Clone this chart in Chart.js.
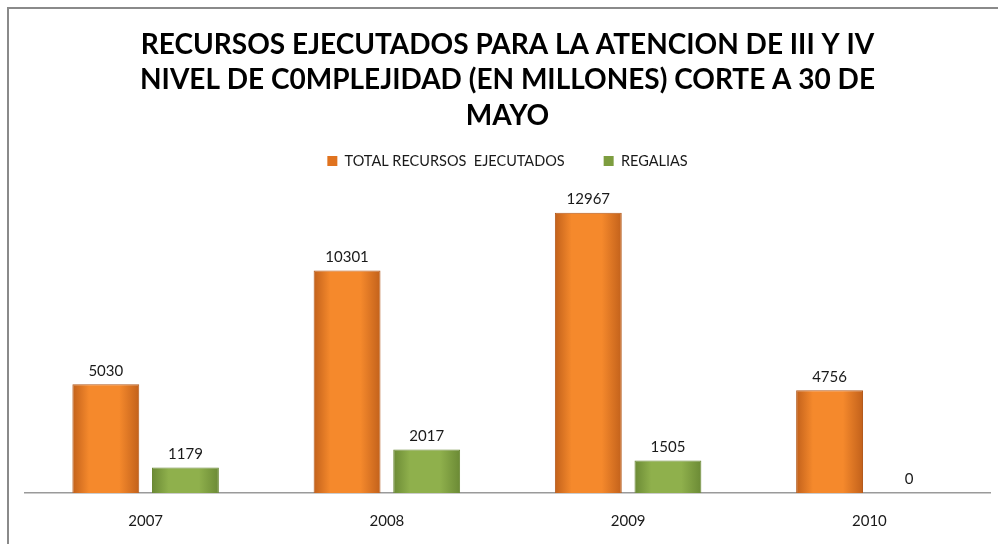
<!DOCTYPE html>
<html>
<head>
<meta charset="utf-8">
<script src="https://cdn.jsdelivr.net/npm/chart.js@4.4.1/dist/chart.umd.min.js"></script>
<style>
    html, body { margin: 0; padding: 0; background: #fff; overflow: hidden; }
    canvas { position: absolute; left: 0; top: 0; }
</style>
</head>
<body>
<canvas id="Grafico1" width="998" height="544"></canvas>
<script>
// datos del grafico
const anios = ['2007', '2008', '2009', '2010'];
const totalRecursos = [5030, 10301, 12967, 4756];
const regalias = [1179, 2017, 1505, 0];
const series = ['TOTAL RECURSOS  EJECUTADOS', 'REGALIAS'];
const titulo = [
    'RECURSOS EJECUTADOS PARA LA ATENCION DE III Y IV',
    'NIVEL DE C0MPLEJIDAD (EN MILLONES) CORTE A 30 DE',
    'MAYO'
];

const fuente = 'Lato, "Open Sans", sans-serif';
const catPct = 0.66;
const barPct = 0.84;

// degradado horizontal para cada barra, calculado desde la escala x
function degradado(ctx, serie, oscuro, claro) {
    const chart = ctx.chart;
    const x = chart.scales.x;
    if (!x || ctx.dataIndex === undefined || !isFinite(x.width) || x.width <= 0) {
        return claro;
    }
    const anchoCat = x.width / anios.length;
    const slot = anchoCat * catPct / 2;
    const centro = x.getPixelForValue(ctx.dataIndex) + (serie - 0.5) * slot;
    const medio = slot * barPct / 2;
    const g = chart.ctx.createLinearGradient(centro - medio, 0, centro + medio, 0);
    g.addColorStop(0, oscuro);
    g.addColorStop(0.25, claro);
    g.addColorStop(0.7, claro);
    g.addColorStop(1, oscuro);
    return g;
}

// marco gris del grafico (solo izquierda y arriba se ven)
const marco = {
    id: 'marco',
    beforeDraw(chart) {
        const ctx = chart.ctx;
        ctx.save();
        ctx.strokeStyle = '#8a8a8a';
        ctx.lineWidth = 2;
        ctx.beginPath();
        ctx.moveTo(8, chart.height);
        ctx.lineTo(8, 8);
        ctx.lineTo(chart.width, 8);
        ctx.stroke();
        ctx.restore();
    }
};

// etiquetas de valor sobre las barras
const etiquetas = {
    id: 'etiquetas',
    afterDatasetsDraw(chart) {
        const ctx = chart.ctx;
        ctx.save();
        ctx.font = '15px ' + fuente;
        ctx.fillStyle = '#1a1a1a';
        ctx.textAlign = 'center';
        ctx.textBaseline = 'bottom';
        chart.data.datasets.forEach((ds, i) => {
            chart.getDatasetMeta(i).data.forEach((barra, j) => {
                ctx.fillText(String(ds.data[j]), barra.x, barra.y - 6);
            });
        });
        ctx.restore();
    }
};

let CanvasG1 = document.getElementById('Grafico1').getContext('2d');
let datos = {
    labels: anios,
    datasets: [{
            label: series[0],
            data: totalRecursos,
            backgroundColor: ctx => degradado(ctx, 0, '#c2611b', '#f5892c'),
            borderColor: '#b45a1c',
            borderWidth: 1,
            categoryPercentage: catPct,
            barPercentage: barPct
        },
        {
            label: series[1],
            data: regalias,
            backgroundColor: ctx => degradado(ctx, 1, '#6b8a35', '#8fb04c'),
            borderColor: '#6a8834',
            borderWidth: 1,
            categoryPercentage: catPct,
            barPercentage: barPct
        }
    ]
};
let opciones = {
    responsive: false,
    animation: false,
    devicePixelRatio: 1,
    layout: {
        padding: { left: 25, right: 8, top: 0, bottom: -5 }
    },
    plugins: {
        title: {
            display: true,
            text: titulo,
            color: '#000',
            font: { family: fuente, size: 28, weight: 'bold', lineHeight: 1.27 },
            padding: { top: 27, bottom: -19 }
        },
        legend: {
            position: 'top',
            labels: {
                boxWidth: 10,
                boxHeight: 10,
                padding: 39,
                color: '#1a1a1a',
                font: { family: fuente, size: 14.5 },
                generateLabels(chart) {
                    const colores = ['#e0731f', '#7d9d3f'];
                    return Chart.defaults.plugins.legend.labels.generateLabels(chart).map((l, i) => {
                        l.fillStyle = colores[i];
                        l.strokeStyle = colores[i];
                        l.lineWidth = 0;
                        return l;
                    });
                }
            }
        },
        tooltip: { enabled: false }
    },
    scales: {
        x: {
            grid: { display: false, drawTicks: false },
            border: { display: true, color: '#9a9a9a', width: 1.5 },
            ticks: { color: '#1a1a1a', font: { family: fuente, size: 15 }, padding: 19 }
        },
        y: {
            display: false,
            min: 0,
            max: 14568
        }
    }
};
let G1 = new Chart(CanvasG1, {
    type: 'bar',
    data: datos,
    options: opciones,
    plugins: [marco, etiquetas]
});
</script>
</body>
</html>
